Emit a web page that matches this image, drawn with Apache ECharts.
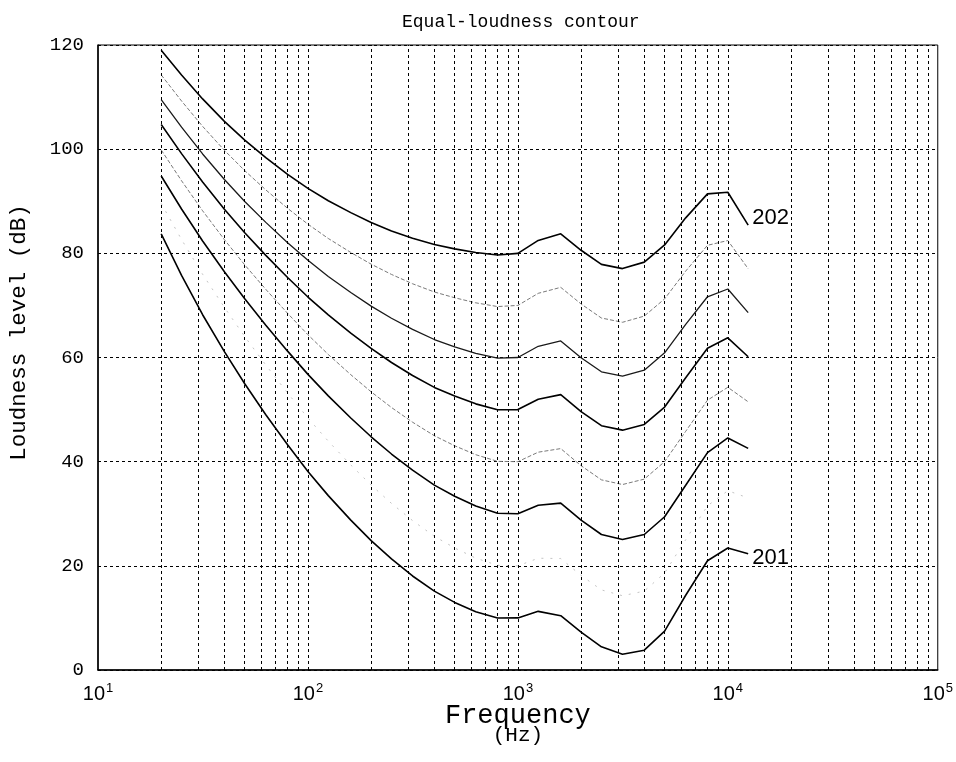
<!DOCTYPE html>
<html><head><meta charset="utf-8">
<script src="https://cdn.jsdelivr.net/npm/echarts@6/dist/echarts.min.js"></script>
<style>html,body{margin:0;padding:0;background:#fff}#c{width:956px;height:762px}</style>
</head><body><div id="c"></div>
<script>
// Frequencies (Hz) of the contour points
const frequencies = [20, 25, 31.5, 40, 50, 63, 80, 100, 125, 160, 200, 250, 315, 400, 500, 630, 800, 1000, 1250, 1600, 2000, 2500, 3150, 4000, 5000, 6300, 8000, 10000, 12500];
// Loudness level (dB) of each contour
const phon10 = [83.75, 75.76, 68.21, 61.14, 54.96, 49.01, 43.24, 38.13, 33.48, 28.77, 24.84, 21.33, 18.05, 15.14, 12.98, 11.18, 9.99, 10.00, 11.26, 10.43, 7.27, 4.45, 3.04, 3.80, 7.46, 14.35, 20.98, 23.43, 22.33];
const phon20 = [89.58, 82.65, 75.98, 69.62, 64.02, 58.55, 53.19, 48.38, 43.94, 39.37, 35.51, 31.99, 28.69, 25.67, 23.43, 21.48, 20.10, 20.00, 21.46, 21.40, 18.15, 15.38, 14.26, 15.14, 18.63, 25.02, 31.52, 34.42, 33.04];
const phon30 = [94.85, 88.52, 82.36, 76.45, 71.26, 66.20, 61.22, 56.76, 52.64, 48.38, 44.78, 41.47, 38.36, 35.50, 33.37, 31.49, 30.11, 30.00, 31.64, 32.04, 28.76, 26.02, 25.04, 26.02, 29.42, 35.48, 41.74, 44.56, 42.55];
const phon40 = [99.85, 93.94, 88.17, 82.63, 77.78, 73.08, 68.48, 64.37, 60.58, 56.70, 53.41, 50.40, 47.58, 44.98, 43.05, 41.34, 40.06, 40.00, 41.82, 42.51, 39.23, 36.51, 35.61, 36.65, 40.01, 45.83, 51.80, 54.28, 51.49];
const phon50 = [104.72, 99.14, 93.69, 88.48, 83.96, 79.61, 75.36, 71.61, 68.17, 64.68, 61.76, 59.04, 56.55, 54.26, 52.59, 51.10, 49.98, 50.00, 51.99, 52.87, 49.62, 46.91, 46.05, 47.15, 50.48, 56.11, 61.76, 63.78, 60.14];
const phon60 = [109.51, 104.23, 99.08, 94.18, 89.96, 85.94, 82.05, 78.65, 75.56, 72.47, 69.86, 67.54, 65.39, 63.45, 62.05, 60.81, 59.89, 60.00, 62.15, 63.19, 59.96, 57.25, 56.42, 57.57, 60.89, 66.36, 71.66, 73.15, 68.63];
const phon70 = [114.26, 109.25, 104.38, 99.78, 95.87, 92.18, 88.64, 85.60, 82.85, 80.17, 77.92, 75.95, 74.16, 72.58, 71.47, 70.50, 69.78, 70.00, 72.32, 73.47, 70.28, 67.58, 66.76, 67.95, 71.26, 76.59, 81.54, 82.46, 77.04];
const phon80 = [118.99, 114.23, 109.65, 105.34, 101.72, 98.36, 95.17, 92.48, 90.09, 87.82, 85.92, 84.31, 82.89, 81.68, 80.86, 80.17, 79.67, 80.00, 82.48, 83.74, 80.59, 77.88, 77.07, 78.31, 81.62, 86.81, 91.41, 91.73, 85.41];
// Curve labels
const topLabel = '202';
const bottomLabel = '201';
// Axis ticks
const yTicks = [0, 20, 40, 60, 80, 100, 120];
const xDecades = [10, 100, 1000, 10000, 100000];
const xExponents = ['1', '2', '3', '4', '5'];
const gridMultipliers = [2, 3, 4, 5, 6, 7, 8, 9];

const mono = '"Liberation Mono", "DejaVu Sans Mono", monospace';
const sans = '"Liberation Sans", Arial, sans-serif';

const verticalLines = [];
for (let d = 0; d < xDecades.length - 1; d++) {
  if (d > 0) verticalLines.push({ xAxis: xDecades[d] });
  gridMultipliers.forEach(m => verticalLines.push({ xAxis: xDecades[d] * m }));
}

function pairs(arr) { return frequencies.map((f, i) => [f, arr[i]]); }

const styles = [
  { name: '80', data: phon80, color: '#000', width: 1.6, type: 'solid', label: topLabel },
  { name: '70', data: phon70, color: '#7a7a7a', width: 1, type: [4, 2] },
  { name: '60', data: phon60, color: '#1a1a1a', width: 1.3, type: 'solid' },
  { name: '50', data: phon50, color: '#000', width: 1.6, type: 'solid' },
  { name: '40', data: phon40, color: '#7a7a7a', width: 1, type: [4, 2] },
  { name: '30', data: phon30, color: '#000', width: 1.6, type: 'solid' },
  { name: '20', data: phon20, color: '#c4c4c4', width: 1, type: [2, 7] },
  { name: '10', data: phon10, color: '#000', width: 1.6, type: 'solid', label: bottomLabel }
];

const series = styles.map(s => {
  const o = {
    type: 'line', name: s.name, data: pairs(s.data), symbol: 'none', smooth: false,
    silent: true, animation: false,
    lineStyle: { color: s.color, width: s.width, type: s.type }
  };
  if (s.label) {
    o.endLabel = { show: true, formatter: s.label, color: '#000', fontFamily: sans, fontSize: 22,
      distance: 4, offset: s.label === topLabel ? [0, -7] : [0, 4] };
  }
  return o;
});
series.push({
  type: 'line', data: [], silent: true, animation: false,
  markLine: { silent: true, symbol: 'none', label: { show: false }, animation: false,
    lineStyle: { color: '#000', width: 1, type: [3, 3] }, data: verticalLines }
});

const chart = echarts.init(document.getElementById('c'), null, { renderer: 'canvas' });
chart.setOption({
  animation: false,
  backgroundColor: '#fff',
  title: { text: 'Equal-loudness contour', left: 397, top: 8,
    textStyle: { fontFamily: mono, fontSize: 18, fontWeight: 'normal', color: '#000' } },
  grid: { left: 91, right: 12, top: 45, bottom: 92, show: true, borderColor: '#000', borderWidth: 1 },
  xAxis: {
    type: 'log', logBase: 10, min: 10, max: 100000,
    axisLine: { lineStyle: { color: '#000', width: 1.5 } },
    axisTick: { show: false },
    splitLine: { show: false },
    axisLabel: {
      margin: 12, color: '#000',
      formatter: v => { const i = xDecades.indexOf(Math.round(v)); return i < 0 ? '' : '{b|10}{s|' + xExponents[i] + '}'; },
      rich: { b: { fontFamily: sans, fontSize: 20, color: '#000', lineHeight: 24 },
              s: { fontFamily: sans, fontSize: 13, color: '#000', lineHeight: 24, verticalAlign: 'top', padding: [0, 0, 8, 1] } }
    },
    name: '{a|Frequency}\n{h|(Hz)}', nameLocation: 'middle', nameGap: 35, nameMoveOverlap: false,
    nameTextStyle: { rich: { a: { fontFamily: mono, fontSize: 27, color: '#000', lineHeight: 21 },
                             h: { fontFamily: mono, fontSize: 21, color: '#000', lineHeight: 19 } } }
  },
  yAxis: {
    type: 'value', min: 0, max: 120, interval: 20,
    axisLine: { show: true, lineStyle: { color: '#000', width: 1.5 } },
    axisTick: { show: false },
    splitLine: { show: true, lineStyle: { color: '#000', width: 1, type: [3, 3] } },
    axisLabel: { margin: 14, color: '#000', fontFamily: mono, fontSize: 19,
      formatter: v => yTicks.indexOf(v) >= 0 ? String(v) : '' },
    name: 'Loudness level (dB)', nameLocation: 'middle', nameGap: 67, nameRotate: 90, nameMoveOverlap: false,
    nameTextStyle: { fontFamily: mono, fontSize: 22.5, color: '#000', padding: [0, 0, 0, 50] }
  },
  series: series
});
</script></body></html>
